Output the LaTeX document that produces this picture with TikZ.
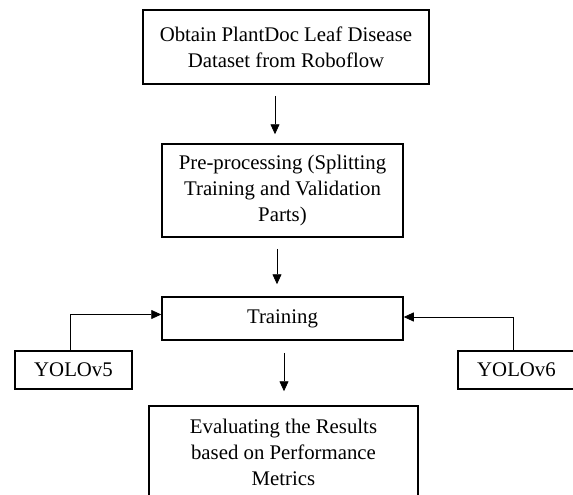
\documentclass[tikz,border=0pt]{standalone}
\usepackage{fontspec}
\setmainfont{Liberation Serif}
\usetikzlibrary{
  arrows.meta,
  positioning,
  calc
}
\tikzset{
  arrow/.style = {-{Triangle[length=10pt, width=9pt]}, line width=0.8pt},
  stage/.style = {draw, line width=1.5pt, align=center, inner sep=0pt,
                  font=\fontsize{20.8}{26}\selectfont},
  model/.style = {stage, minimum width=117pt, minimum height=38pt},
}

\begin{document}
\begin{tikzpicture}[x=1pt, y=-1pt]
    \clip (0,0) rectangle (573,495);

    % Pipeline stages
    \node[stage, minimum width=286pt, minimum height=74pt]
        (obtain) at (286, 47) {Obtain PlantDoc Leaf Disease\\Dataset from Roboflow};
    \node[stage, minimum width=241pt, minimum height=93pt]
        (prep) at (282.5, 190.5) {Pre-processing (Splitting\\Training and Validation\\Parts)};
    \node[stage, minimum width=241pt, minimum height=43pt]
        (train) at (282.5, 318.5) {Training};
    \node[stage, minimum width=269pt, minimum height=92pt]
        (eval) at (283.5, 452) {Evaluating the Results\\based on Performance\\Metrics};

    % Models
    \node[model] (yolo5) at (73.5, 370) {YOLOv5};
    \node[model] (yolo6) at (516.5, 370) {YOLOv6};

    % Arrows between stages
    \draw[arrow, shorten <=11pt, shorten >=9pt]
        ([xshift=-11pt]obtain.south) -- ([xshift=-11pt]obtain.south |- prep.north);
    \draw[arrow, shorten <=11pt, shorten >=12pt]
        ([xshift=-5.5pt]prep.south) -- ([xshift=-5.5pt]prep.south |- train.north);
    \draw[arrow, shorten <=12pt, shorten >=14pt]
        ([xshift=1.5pt]train.south) -- ([xshift=1.5pt]train.south |- eval.north);

    % Models feed the training
    \draw[arrow] ([xshift=-3.5pt]yolo5.north) |- ([yshift=4pt]train.west);
    \draw[arrow] ([xshift=-3pt]yolo6.north) |- ([yshift=1.5pt]train.east);

\end{tikzpicture}
\end{document}
